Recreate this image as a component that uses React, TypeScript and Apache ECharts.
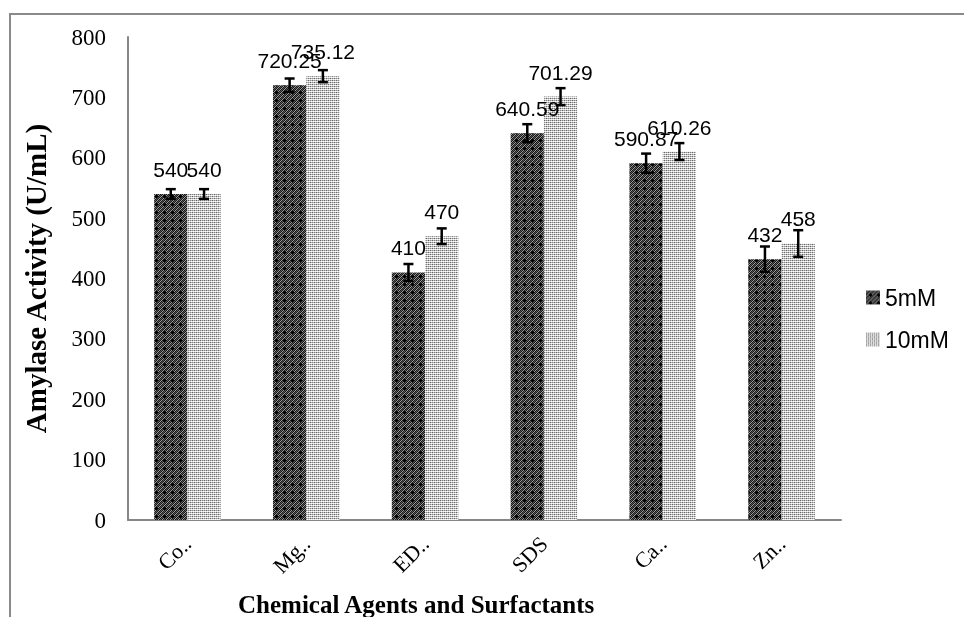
import React, { useEffect, useRef } from "react";
import * as echarts from "echarts";

const categories = ["Co..", "Mg..", "ED..", "SDS", "Ca..", "Zn.."];
const values5 = [540, 720.25, 410, 640.59, 590.87, 432];
const values10 = [540, 735.12, 470, 701.29, 610.26, 458];
const err5 = [8, 11, 14, 15, 16, 21];
const err10 = [8, 10, 13, 14, 14, 22];
const seriesNames = ["5mM", "10mM"];
const yTicks = { min: 0, max: 800, interval: 100 };

function makePattern(kind: "dark" | "light") {
  const c = document.createElement("canvas");
  c.width = 8;
  c.height = 8;
  const ctx = c.getContext("2d")!;
  for (let y = 0; y < 8; y++) {
    for (let x = 0; x < 8; x++) {
      let col = "#fff";
      if (kind === "dark") {
        if ((x + y) % 2 === 0) col = "#151515";
        else if ((x + y) % 4 === 1) col = "#a0a0a0";
        else col = "#5a5a5a";
        if ((x === 4 && y >= 3 && y <= 5) || (y === 4 && x >= 3 && x <= 5)) col = "#000";
      } else {
        if (x % 2 === 0 && y % 2 === 0) col = (x + y) % 4 === 0 ? "#666" : "#888";
        else if (x % 2 === 1 && y % 2 === 0) col = "#bbb";
        else if (x % 2 === 0 && y % 2 === 1) col = "#e0e0e0";
        else col = "#fff";
      }
      ctx.fillStyle = col;
      ctx.fillRect(x, y, 1, 1);
    }
  }
  return { image: c, repeat: "repeat", imageWidth: 8, imageHeight: 8 } as any;
}

export default function App() {
  const ref = useRef<HTMLDivElement>(null);
  useEffect(() => {
    const chart = echarts.init(ref.current!, null, { renderer: "svg" });
    const darkP = makePattern("dark");
    const lightP = makePattern("light");
    const BW = 0.28;
    const errSeries = (vals: number[], errs: number[], sign: number) => ({
      type: "custom",
      z: 10,
      silent: true,
      data: vals.map((v, i) => [i, v, errs[i]]),
      renderItem: (params: any, api: any) => {
        const ci = api.value(0);
        const v = api.value(1);
        const e = api.value(2);
        const band = api.size([1, 0])[0];
        const off = (sign * band * BW) / 2;
        const top = api.coord([ci, v + e]);
        const bot = api.coord([ci, v - e]);
        const x = top[0] + off;
        const cap = 5;
        const style = { stroke: "#000", lineWidth: 2.5 };
        return {
          type: "group",
          children: [
            { type: "line", shape: { x1: x, y1: top[1], x2: x, y2: bot[1] }, style },
            { type: "line", shape: { x1: x - cap, y1: top[1], x2: x + cap, y2: top[1] }, style },
            { type: "line", shape: { x1: x - cap, y1: bot[1], x2: x + cap, y2: bot[1] }, style },
          ],
        };
      },
    });
    const labelStyle = {
      show: true,
      position: "top",
      distance: 14,
      color: "#000",
      fontSize: 21,
      fontFamily: "Liberation Sans",
    };
    chart.setOption({
      animation: false,
      grid: { left: 128, right: 123, top: 37, bottom: 97 },
      legend: {
        data: seriesNames,
        orient: "vertical",
        left: 861,
        top: 281,
        itemWidth: 14,
        itemHeight: 14,
        itemGap: 19,
        icon: "rect",
        textStyle: { fontSize: 23, color: "#000", fontFamily: "Liberation Sans" },
      },
      graphic: [
        {
          type: "rect",
          shape: { x: 10, y: 14, width: 1000, height: 700 },
          style: { fill: "none", stroke: "#8a8a8a", lineWidth: 2 },
          silent: true,
        },
        {
          type: "text",
          left: 238,
          top: 592,
          style: {
            text: "Chemical Agents and Surfactants",
            font: "bold 25px 'Liberation Serif'",
            fill: "#000",
          },
        },
      ],
      xAxis: {
        type: "category",
        data: categories,
        axisTick: { show: false },
        axisLine: { lineStyle: { color: "#868686", width: 2 } },
        axisLabel: {
          rotate: 45,
          margin: 20,
          color: "#000",
          fontSize: 22,
          fontFamily: "Liberation Serif",
        },
      },
      yAxis: {
        type: "value",
        min: yTicks.min,
        max: yTicks.max,
        interval: yTicks.interval,
        name: "Amylase Activity (U/mL)",
        nameLocation: "middle",
        nameGap: 78,
        nameTextStyle: {
          fontSize: 29,
          fontWeight: "bold",
          fontFamily: "Liberation Serif",
          color: "#000",
        },
        axisLine: { show: true, lineStyle: { color: "#868686", width: 2 } },
        axisTick: { show: false },
        splitLine: { show: false },
        axisLabel: {
          margin: 22,
          color: "#000",
          fontSize: 23,
          fontFamily: "Liberation Serif",
        },
      },
      series: [
        {
          name: seriesNames[0],
          type: "bar",
          barWidth: "28%",
          barGap: "0%",
          data: values5,
          itemStyle: { color: darkP },
          label: labelStyle,
        },
        {
          name: seriesNames[1],
          type: "bar",
          barWidth: "28%",
          barGap: "0%",
          data: values10,
          itemStyle: { color: lightP },
          label: labelStyle,
        },
        errSeries(values5, err5, -1),
        errSeries(values10, err10, 1),
      ],
    });
    return () => chart.dispose();
  }, []);
  return (
    <div
      ref={ref}
      style={{ position: "fixed", left: 0, top: 0, width: 964, height: 617 }}
    />
  );
}
